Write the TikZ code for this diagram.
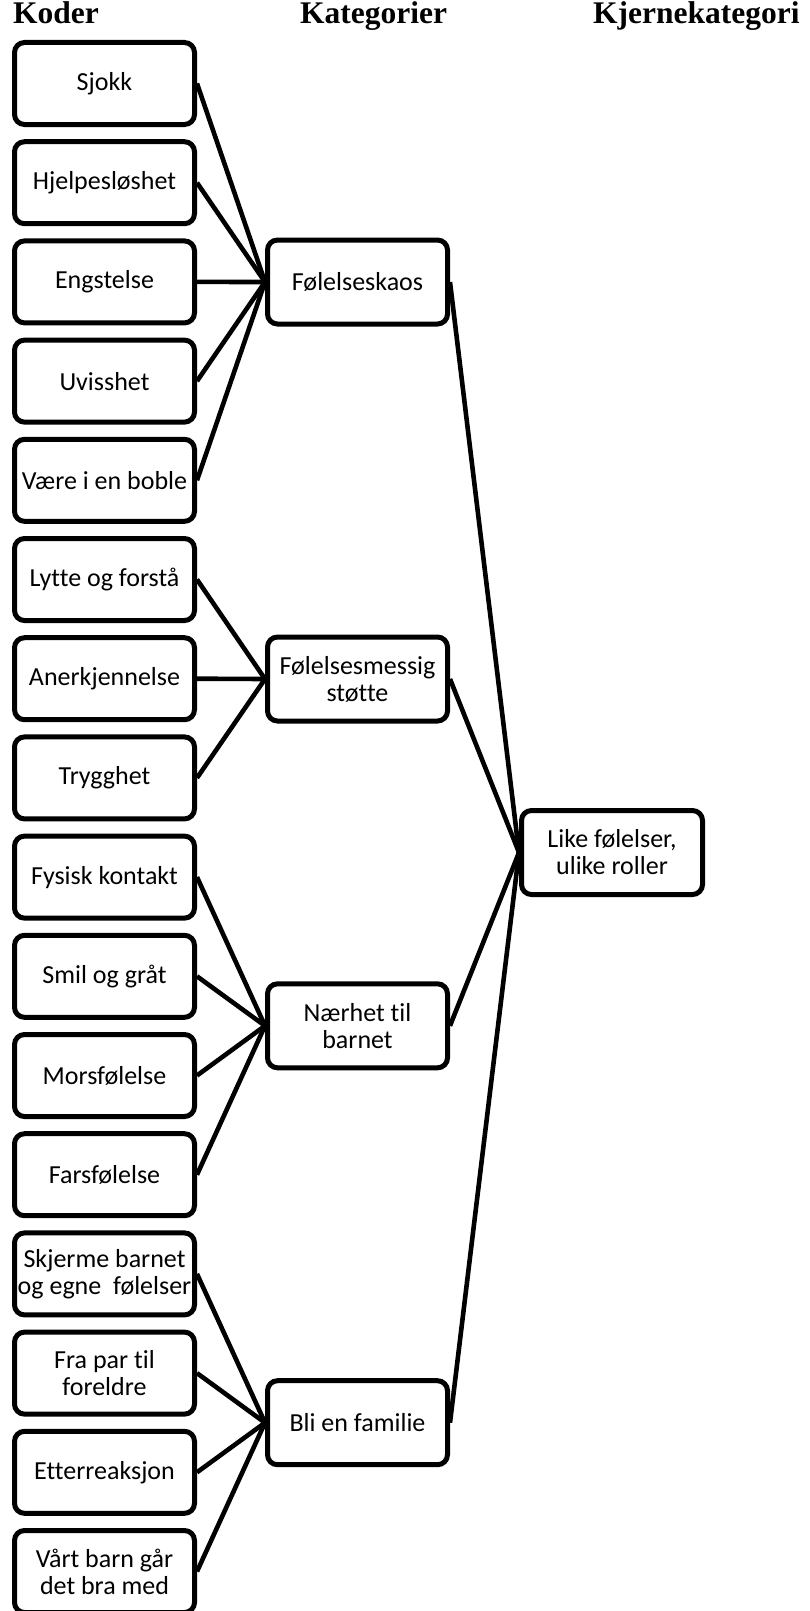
\documentclass[tikz,border=0pt]{standalone}
\usepackage{fontspec}
\setmainfont{Liberation Serif}
\newfontfamily\boxfont[Ligatures=NoCommon]{Carlito}
\begin{document}
\begin{tikzpicture}[x=1pt,y=-1pt,
  kbox/.style={draw, line width=5pt, rounded corners=10pt, minimum width=180pt, minimum height=82pt, inner sep=0pt, align=center, font=\boxfont\fontsize{26}{27}\selectfont},
  cbox/.style={kbox, minimum height=84pt},
  link/.style={line width=4.6pt},
  head/.style={anchor=base west, inner sep=0pt, font=\fontsize{31.5}{34}\selectfont\bfseries}]
\useasboundingbox (0,0) rectangle (810,1611);
\clip (0,0) rectangle (810,1611);
% headers
\node[head] (h1) at (13,24) {Koder};
\node[head] (h2) at (300,24) {Kategorier};
\node[head] (h3) at (593,24) {Kjernekategori};
% codes
\node[kbox] (c1)  at (104.5,83.5)   {Sjokk};
\node[kbox] (c2)  at (104.5,182.7)  {Hjelpesløshet};
\node[kbox] (c3)  at (104.5,281.9)  {Engstelse};
\node[kbox] (c4)  at (104.5,381.1)  {Uvisshet};
\node[kbox] (c5)  at (104.5,480.3)  {Være i en boble};
\node[kbox] (c6)  at (104.5,579.5)  {Lytte og forstå};
\node[kbox] (c7)  at (104.5,678.7)  {Anerkjennelse};
\node[kbox] (c8)  at (104.5,777.9)  {Trygghet};
\node[kbox] (c9)  at (104.5,877.1)  {Fysisk kontakt};
\node[kbox] (c10) at (104.5,976.3)  {Smil og gråt};
\node[kbox] (c11) at (104.5,1075.5) {Morsfølelse};
\node[kbox] (c12) at (104.5,1174.7) {Farsfølelse};
\node[kbox] (c13) at (104.5,1273.9) {Skjerme barnet\\og egne\ \ følelser};
\node[kbox] (c14) at (104.5,1373.1) {Fra par til\\foreldre};
\node[kbox] (c15) at (104.5,1472.3) {Etterreaksjon};
\node[kbox] (c16) at (104.5,1571.5) {Vårt barn går\\det bra med};
% categories
\node[cbox] (k1) at (357.5,282)    {Følelseskaos};
\node[cbox] (k2) at (357.5,679)    {Følelsesmessig\\støtte};
\node[cbox] (k3) at (357.5,1025.8) {Nærhet til\\barnet};
\node[cbox] (k4) at (357.5,1422.7) {Bli en familie};
% core
\node[cbox, minimum width=181pt] (core) at (612,852.5) {Like følelser,\\ulike roller};
% connectors
\foreach \i in {1,...,5} {\draw[link] (c\i.east) -- (k1.west);}
\foreach \i in {6,7,8} {\draw[link] (c\i.east) -- (k2.west);}
\foreach \i in {9,...,12} {\draw[link] (c\i.east) -- (k3.west);}
\foreach \i in {13,...,16} {\draw[link] (c\i.east) -- (k4.west);}
\foreach \i in {1,...,4} {\draw[link] (k\i.east) -- (core.west);}
\end{tikzpicture}
\end{document}
